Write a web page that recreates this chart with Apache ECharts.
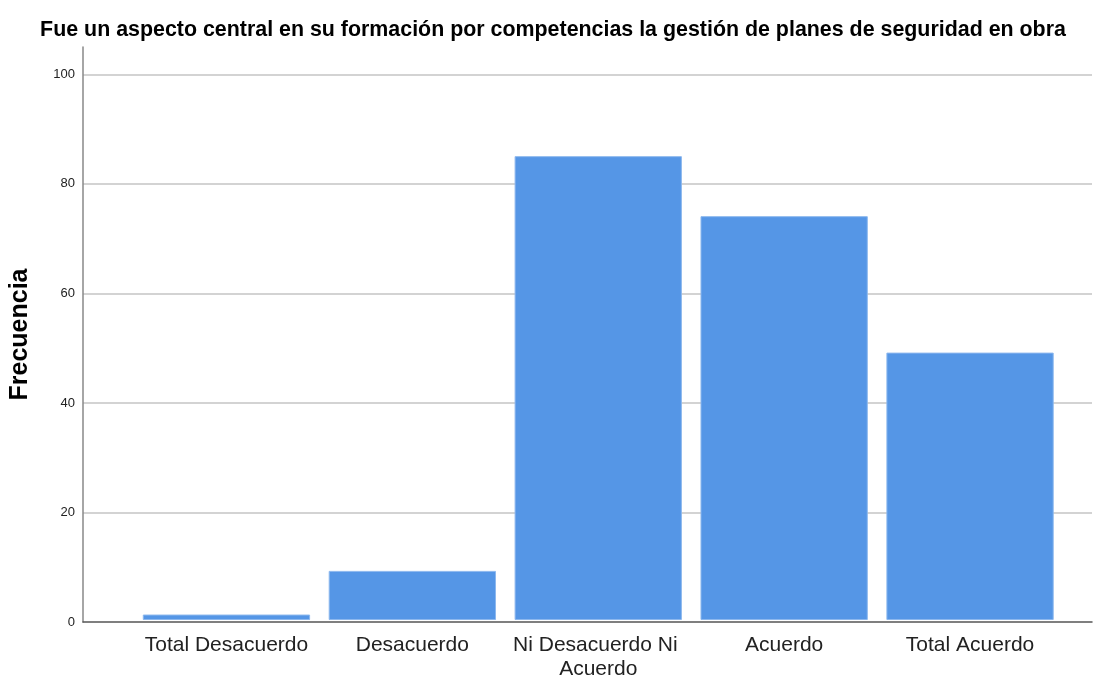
<!DOCTYPE html>
<html style="height:100%;">
<head>
    <meta charset="utf-8">
    <script src="https://cdn.jsdelivr.net/npm/echarts@6/dist/echarts.min.js"></script>
</head>
<body style="height:100%;margin:0;">
    <div id="main" style="width:1106px;height:681px;"></div>
<script>
    // categorías y frecuencias
    var categorias = ['Total Desacuerdo', 'Desacuerdo', 'Ni Desacuerdo Ni Acuerdo', 'Acuerdo', 'Total Acuerdo'];
    var frecuencias = [1, 9, 85, 74, 49];
    var titulo = 'Fue un aspecto central en su formación por competencias la gestión de planes de seguridad en obra';

    var fuente = '"Liberation Sans", Arial, sans-serif';

    var option = {
        backgroundColor: '#FFFFFF',
        animation: false,
        title: {
            text: titulo,
            left: 'center',
            top: 15,
            textStyle: { fontFamily: fuente, fontSize: 21.4, fontWeight: 'bold', color: '#000' }
        },
        // grid 0: ejes y líneas de fondo; grid 1: barras
        grid: [
            { left: 82, right: 14, top: 47, bottom: 59 },
            { left: 133.5, right: 43, top: 47, bottom: 59 }
        ],
        xAxis: [{
            gridIndex: 0,
            type: 'value',
            min: 0, max: 1,
            axisLine: { show: true, lineStyle: { color: '#555', width: 1.5 } },
            axisTick: { show: false },
            axisLabel: { show: false },
            splitLine: { show: false }
        }, {
            gridIndex: 1,
            type: 'category',
            data: categorias,
            axisLine: { show: false },
            axisTick: { show: false },
            axisLabel: {
                margin: 13,
                fontFamily: fuente,
                fontSize: 21,
                lineHeight: 24,
                color: '#222',
                width: 180,
                overflow: 'break',
                interval: 0
            }
        }],
        yAxis: [{
            gridIndex: 0,
            type: 'value',
            min: 0, max: 105, interval: 20,
            name: 'Frecuencia',
            nameLocation: 'middle',
            nameGap: 50,
            nameTextStyle: { fontFamily: fuente, fontSize: 25, fontWeight: 'bold', color: '#000' },
            axisLine: { show: true, lineStyle: { color: '#888', width: 1.5 } },
            axisTick: { show: false },
            axisLabel: { margin: 8, fontFamily: fuente, fontSize: 13, color: '#222', showMaxLabel: false },
            splitLine: { show: true, showMaxLine: false, showMinLine: false, lineStyle: { color: '#c4c4c4', width: 1.5 } }
        }, {
            gridIndex: 1,
            type: 'value',
            min: 0, max: 105,
            show: false
        }],
        series: [{
            name: 'Frecuencia',
            type: 'bar',
            xAxisIndex: 1,
            yAxisIndex: 1,
            barCategoryGap: '10%',
            data: frecuencias,
            itemStyle: { color: '#5596E6', borderColor: '#8DB8EE', borderWidth: 1 }
        }]
    };

    var chart = echarts.init(document.getElementById('main'));
    chart.setOption(option);
</script>
</body>
</html>
